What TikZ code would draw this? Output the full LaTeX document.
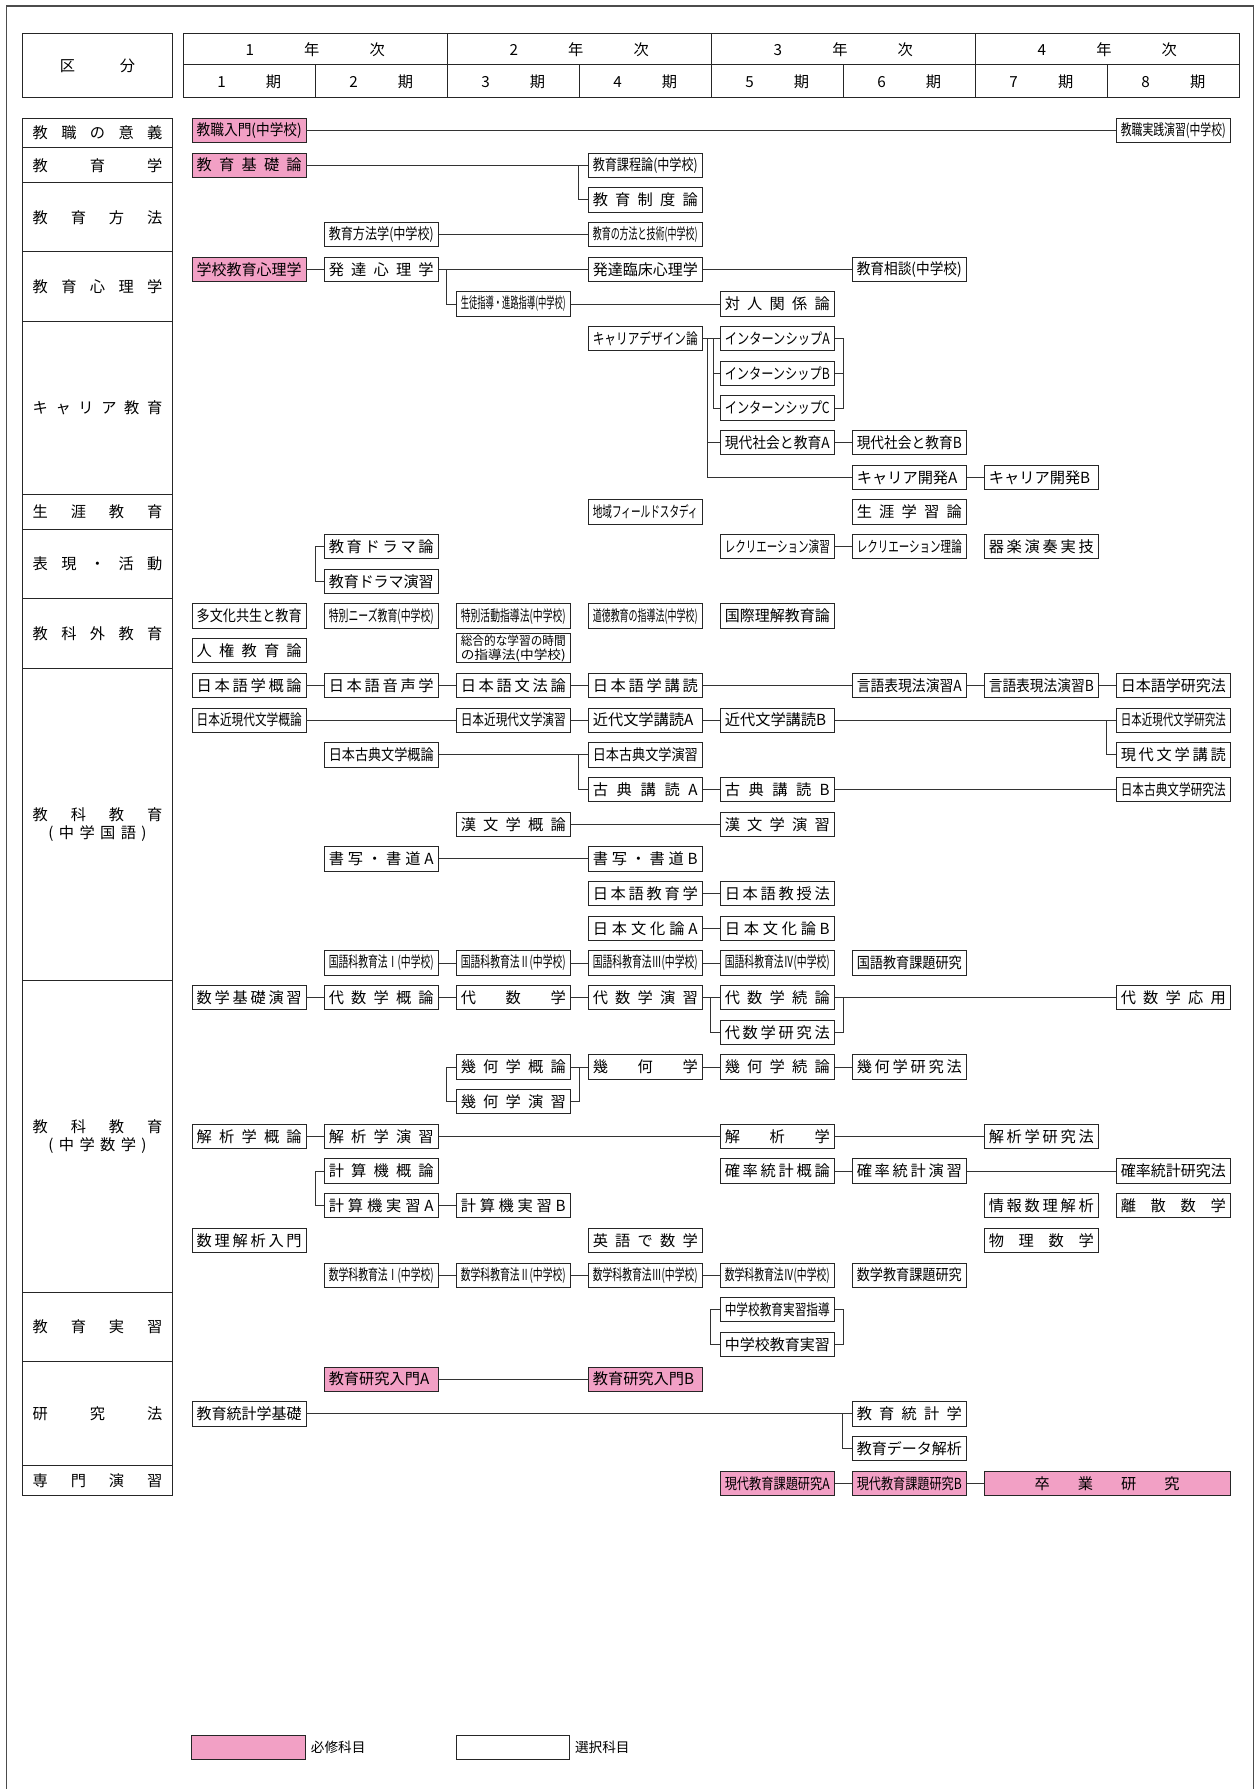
\documentclass[tikz,border=0pt]{standalone}
\usepackage{fontspec}
\setmainfont{Noto Sans CJK JP}
\usepackage{graphicx}
\usepackage{tikz}
\definecolor{reqpink}{RGB}{242,160,197}
\newlength\bw
\setlength\bw{2.3cm}
\newsavebox\fitbox
\newcommand\fitw[1]{\sbox\fitbox{#1}\ifdim\wd\fitbox>\bw\resizebox{\bw}{\height}{\usebox\fitbox}\else\makebox[\bw][l]{\usebox\fitbox}\fi}
\newcommand\fillw[1]{\resizebox{\bw}{\height}{#1}}
\newcommand\sprd[1]{\makebox[\bw][s]{#1}}
\newcommand\catw[1]{\makebox[2.84cm][s]{#1}}
\newcommand\cx[1]{218.45+115.7*(#1-1)}
\newcommand\ry[1]{114.4+30.4*(#1-1)}

\begin{document}
\begin{tikzpicture}[x=0.025cm, y=-0.025cm,
    box/.style={draw=black!85, line width=0.6pt, minimum width=2.4875cm, minimum height=0.5325cm, inner sep=0pt, font=\fontsize{9.5}{10.5}\selectfont},
    req/.style={box, fill=reqpink},
    cat/.style={inner sep=0pt, align=center, font=\fontsize{9.5}{11.4}\selectfont},
    hdtext/.style={inner sep=0pt, font=\fontsize{9.5}{10.5}\selectfont},
    link/.style={draw=black!80, line width=0.55pt},
    tline/.style={draw=black!85, line width=0.65pt}
]
\useasboundingbox (0,0) rectangle (1100,1568);
\draw[black!70, line width=0.8pt] (5.6,1568) -- (5.6,5.3) -- (1098.5,5.3) -- (1098.5,1568);

% header
\draw[tline] (19.7,29.2) rectangle (151,85.3);
\draw[tline] (160.6,29.2) rectangle (1086.2,85.3);
\draw[tline] (160.6,56.4) -- (1086.2,56.4);
\foreach \k in {3,5,7} \draw[tline] ({160.6+115.7*(\k-1)},29.2) -- ++(0,56.1);
\foreach \k in {2,4,6,8} \draw[tline] ({160.6+115.7*(\k-1)},56.4) -- ++(0,28.9);
\node[hdtext] (kubun) at (85.4,57.5) {\makebox[1.65cm][s]{区 分}};
\foreach \y in {1,...,4}
    \node[hdtext] (year\y) at ({160.6+231.4*(\y-0.5)},43.5) {\makebox[3.05cm][s]{\y{} 年 次}};
\foreach \p in {1,...,8}
    \node[hdtext] (term\p) at ({\cx{\p}},71.5) {\makebox[1.4cm][s]{\p{} 期}};

% categories
\draw[tline] (20,103.9) rectangle (151,1310.6);
\foreach \k in {1,2,4,6,11,12,14,16,25,34,36,39}
    \draw[tline] (20,{\ry{\k}+15.2}) -- (151,{\ry{\k}+15.2});
\node[cat] (k1) at (85.5,116.75) {\catw{教 職 の 意 義}};
\node[cat] (k2) at (85.5,144.8) {\catw{教 育 学}};
\node[cat] (k3) at (85.5,190.4) {\catw{教 育 方 法}};
\node[cat] (k4) at (85.5,251.2) {\catw{教 育 心 理 学}};
\node[cat] (k5) at (85.5,357.6) {\catw{キ ャ リ ア 教 育}};
\node[cat] (k6) at (85.5,448.8) {\catw{生 涯 教 育}};
\node[cat] (k7) at (85.5,494.4) {\catw{表 現 ・ 活 動}};
\node[cat] (k8) at (85.5,555.2) {\catw{教 科 外 教 育}};
\node[cat] (k9) at (85.5,722.4) {\catw{教 科 教 育}\\\makebox[2.15cm][s]{( 中 学 国 語 )}};
\node[cat] (k10) at (85.5,996.0) {\catw{教 科 教 育}\\\makebox[2.15cm][s]{( 中 学 数 学 )}};
\node[cat] (k11) at (85.5,1163.2) {\catw{教 育 実 習}};
\node[cat] (k12) at (85.5,1239.2) {\catw{研 究 法}};
\node[cat] (k13) at (85.5,1297.7) {\catw{専 門 演 習}};

% subjects
\node[req] (nyumon) at ({\cx{1}},{\ry{1}}) {\fitw{教職入門(中学校)}};
\node[box] (jissen) at ({\cx{8}},{\ry{1}}) {\fitw{教職実践演習(中学校)}};
\node[req] (kiso) at ({\cx{1}},{\ry{2}}) {\sprd{教 育 基 礎 論}};
\node[box] (katei) at ({\cx{4}},{\ry{2}}) {\fitw{教育課程論(中学校)}};
\node[box] (seido) at ({\cx{4}},{\ry{3}}) {\sprd{教 育 制 度 論}};
\node[box] (hoho) at ({\cx{2}},{\ry{4}}) {\fitw{教育方法学(中学校)}};
\node[box] (gijutsu) at ({\cx{4}},{\ry{4}}) {\fitw{教育の方法と技術(中学校)}};
\node[req] (gakko) at ({\cx{1}},{\ry{5}}) {\fitw{学校教育心理学}};
\node[box] (hattatsu) at ({\cx{2}},{\ry{5}}) {\sprd{発 達 心 理 学}};
\node[box] (rinsho) at ({\cx{4}},{\ry{5}}) {\fitw{発達臨床心理学}};
\node[box] (sodan) at ({\cx{6}},{\ry{5}}) {\fitw{教育相談(中学校)}};
\node[box] (shido) at ({\cx{3}},{\ry{6}}) {\fitw{生徒指導・進路指導(中学校)}};
\node[box] (taijin) at ({\cx{5}},{\ry{6}}) {\sprd{対 人 関 係 論}};
\node[box] (design) at ({\cx{4}},{\ry{7}}) {\fitw{キャリアデザイン論}};
\node[box] (internA) at ({\cx{5}},{\ry{7}}) {\fitw{インターンシップA}};
\node[box] (internB) at ({\cx{5}},{\ry{8}}) {\fitw{インターンシップB}};
\node[box] (internC) at ({\cx{5}},{\ry{9}}) {\fitw{インターンシップC}};
\node[box] (gendaiA) at ({\cx{5}},{\ry{10}}) {\fitw{現代社会と教育A}};
\node[box] (gendaiB) at ({\cx{6}},{\ry{10}}) {\fitw{現代社会と教育B}};
\node[box] (kaihatsuA) at ({\cx{6}},{\ry{11}}) {\fitw{キャリア開発A}};
\node[box] (kaihatsuB) at ({\cx{7}},{\ry{11}}) {\fitw{キャリア開発B}};
\node[box] (chiiki) at ({\cx{4}},{\ry{12}}) {\fitw{地域フィールドスタディ}};
\node[box] (shogai) at ({\cx{6}},{\ry{12}}) {\sprd{生 涯 学 習 論}};
\node[box] (drama) at ({\cx{2}},{\ry{13}}) {\sprd{教 育 ド ラ マ 論}};
\node[box] (rec1) at ({\cx{5}},{\ry{13}}) {\fitw{レクリエーション演習}};
\node[box] (rec2) at ({\cx{6}},{\ry{13}}) {\fitw{レクリエーション理論}};
\node[box] (kigaku) at ({\cx{7}},{\ry{13}}) {\sprd{器 楽 演 奏 実 技}};
\node[box] (dramaen) at ({\cx{2}},{\ry{14}}) {\fitw{教育ドラマ演習}};
\node[box] (tabunka) at ({\cx{1}},{\ry{15}}) {\fitw{多文化共生と教育}};
\node[box] (needs) at ({\cx{2}},{\ry{15}}) {\fitw{特別ニーズ教育(中学校)}};
\node[box] (tokkatsu) at ({\cx{3}},{\ry{15}}) {\fitw{特別活動指導法(中学校)}};
\node[box] (dotoku) at ({\cx{4}},{\ry{15}}) {\fitw{道徳教育の指導法(中学校)}};
\node[box] (kokusai) at ({\cx{5}},{\ry{15}}) {\fitw{国際理解教育論}};
\node[box] (jinken) at ({\cx{1}},{\ry{16}}) {\sprd{人 権 教 育 論}};
\node[box, minimum height=0.65cm, align=left, font=\fontsize{7.8}{8.8}\selectfont] (sogo) at ({\cx{3}},{\ry{16}-2.4}) {\fillw{総合的な学習の時間}\\\fillw{の指導法(中学校)}};
\node[box] (ngairon) at ({\cx{1}},{\ry{17}}) {\sprd{日 本 語 学 概 論}};
\node[box] (onsei) at ({\cx{2}},{\ry{17}}) {\sprd{日 本 語 音 声 学}};
\node[box] (bunpo) at ({\cx{3}},{\ry{17}}) {\sprd{日 本 語 文 法 論}};
\node[box] (kodoku) at ({\cx{4}},{\ry{17}}) {\sprd{日 本 語 学 講 読}};
\node[box] (gengoA) at ({\cx{6}},{\ry{17}}) {\fitw{言語表現法演習A}};
\node[box] (gengoB) at ({\cx{7}},{\ry{17}}) {\fitw{言語表現法演習B}};
\node[box] (nkenkyu) at ({\cx{8}},{\ry{17}}) {\fitw{日本語学研究法}};
\node[box] (kingendai) at ({\cx{1}},{\ry{18}}) {\fitw{日本近現代文学概論}};
\node[box] (kgenshu) at ({\cx{3}},{\ry{18}}) {\fitw{日本近現代文学演習}};
\node[box] (kindaiA) at ({\cx{4}},{\ry{18}}) {\fitw{近代文学講読A}};
\node[box] (kindaiB) at ({\cx{5}},{\ry{18}}) {\fitw{近代文学講読B}};
\node[box] (kgkenkyu) at ({\cx{8}},{\ry{18}}) {\fitw{日本近現代文学研究法}};
\node[box] (kotengairon) at ({\cx{2}},{\ry{19}}) {\fitw{日本古典文学概論}};
\node[box] (kotenenshu) at ({\cx{4}},{\ry{19}}) {\fitw{日本古典文学演習}};
\node[box] (gendaibun) at ({\cx{8}},{\ry{19}}) {\sprd{現 代 文 学 講 読}};
\node[box] (kotenA) at ({\cx{4}},{\ry{20}}) {\sprd{古 典 講 読 A}};
\node[box] (kotenB) at ({\cx{5}},{\ry{20}}) {\sprd{古 典 講 読 B}};
\node[box] (kotenkenkyu) at ({\cx{8}},{\ry{20}}) {\fitw{日本古典文学研究法}};
\node[box] (kanbun) at ({\cx{3}},{\ry{21}}) {\sprd{漢 文 学 概 論}};
\node[box] (kanbunen) at ({\cx{5}},{\ry{21}}) {\sprd{漢 文 学 演 習}};
\node[box] (shoshaA) at ({\cx{2}},{\ry{22}}) {\sprd{書 写 ・ 書 道 A}};
\node[box] (shoshaB) at ({\cx{4}},{\ry{22}}) {\sprd{書 写 ・ 書 道 B}};
\node[box] (nkyoiku) at ({\cx{4}},{\ry{23}}) {\sprd{日 本 語 教 育 学}};
\node[box] (nkyoju) at ({\cx{5}},{\ry{23}}) {\sprd{日 本 語 教 授 法}};
\node[box] (bunkaA) at ({\cx{4}},{\ry{24}}) {\sprd{日 本 文 化 論 A}};
\node[box] (bunkaB) at ({\cx{5}},{\ry{24}}) {\sprd{日 本 文 化 論 B}};
\node[box] (kokugo1) at ({\cx{2}},{\ry{25}}) {\fitw{国語科教育法Ⅰ(中学校)}};
\node[box] (kokugo2) at ({\cx{3}},{\ry{25}}) {\fitw{国語科教育法Ⅱ(中学校)}};
\node[box] (kokugo3) at ({\cx{4}},{\ry{25}}) {\fitw{国語科教育法Ⅲ(中学校)}};
\node[box] (kokugo4) at ({\cx{5}},{\ry{25}}) {\fitw{国語科教育法Ⅳ(中学校)}};
\node[box] (kokugokadai) at ({\cx{6}},{\ry{25}}) {\fitw{国語教育課題研究}};
\node[box] (kisoen) at ({\cx{1}},{\ry{26}}) {\sprd{数 学 基 礎 演 習}};
\node[box] (daigairon) at ({\cx{2}},{\ry{26}}) {\sprd{代 数 学 概 論}};
\node[box] (daisu) at ({\cx{3}},{\ry{26}}) {\sprd{代 数 学}};
\node[box] (daienshu) at ({\cx{4}},{\ry{26}}) {\sprd{代 数 学 演 習}};
\node[box] (daizoku) at ({\cx{5}},{\ry{26}}) {\sprd{代 数 学 続 論}};
\node[box] (daioyo) at ({\cx{8}},{\ry{26}}) {\sprd{代 数 学 応 用}};
\node[box] (daikenkyu) at ({\cx{5}},{\ry{27}}) {\sprd{代 数 学 研 究 法}};
\node[box] (kikagai) at ({\cx{3}},{\ry{28}}) {\sprd{幾 何 学 概 論}};
\node[box] (kika) at ({\cx{4}},{\ry{28}}) {\sprd{幾 何 学}};
\node[box] (kikazoku) at ({\cx{5}},{\ry{28}}) {\sprd{幾 何 学 続 論}};
\node[box] (kikaken) at ({\cx{6}},{\ry{28}}) {\sprd{幾 何 学 研 究 法}};
\node[box] (kikaen) at ({\cx{3}},{\ry{29}}) {\sprd{幾 何 学 演 習}};
\node[box] (kaigai) at ({\cx{1}},{\ry{30}}) {\sprd{解 析 学 概 論}};
\node[box] (kaien) at ({\cx{2}},{\ry{30}}) {\sprd{解 析 学 演 習}};
\node[box] (kaiseki) at ({\cx{5}},{\ry{30}}) {\sprd{解 析 学}};
\node[box] (kaiken) at ({\cx{7}},{\ry{30}}) {\sprd{解 析 学 研 究 法}};
\node[box] (keigai) at ({\cx{2}},{\ry{31}}) {\sprd{計 算 機 概 論}};
\node[box] (kakugai) at ({\cx{5}},{\ry{31}}) {\sprd{確 率 統 計 概 論}};
\node[box] (kakuen) at ({\cx{6}},{\ry{31}}) {\sprd{確 率 統 計 演 習}};
\node[box] (kakuken) at ({\cx{8}},{\ry{31}}) {\fitw{確率統計研究法}};
\node[box] (keiA) at ({\cx{2}},{\ry{32}}) {\sprd{計 算 機 実 習 A}};
\node[box] (keiB) at ({\cx{3}},{\ry{32}}) {\sprd{計 算 機 実 習 B}};
\node[box] (joho) at ({\cx{7}},{\ry{32}}) {\sprd{情 報 数 理 解 析}};
\node[box] (risan) at ({\cx{8}},{\ry{32}}) {\sprd{離 散 数 学}};
\node[box] (suri) at ({\cx{1}},{\ry{33}}) {\sprd{数 理 解 析 入 門}};
\node[box] (eigo) at ({\cx{4}},{\ry{33}}) {\sprd{英 語 で 数 学}};
\node[box] (butsuri) at ({\cx{7}},{\ry{33}}) {\sprd{物 理 数 学}};
\node[box] (sugaku1) at ({\cx{2}},{\ry{34}}) {\fitw{数学科教育法Ⅰ(中学校)}};
\node[box] (sugaku2) at ({\cx{3}},{\ry{34}}) {\fitw{数学科教育法Ⅱ(中学校)}};
\node[box] (sugaku3) at ({\cx{4}},{\ry{34}}) {\fitw{数学科教育法Ⅲ(中学校)}};
\node[box] (sugaku4) at ({\cx{5}},{\ry{34}}) {\fitw{数学科教育法Ⅳ(中学校)}};
\node[box] (sugakukadai) at ({\cx{6}},{\ry{34}}) {\fitw{数学教育課題研究}};
\node[box] (shidou) at ({\cx{5}},{\ry{35}}) {\fitw{中学校教育実習指導}};
\node[box] (jisshu) at ({\cx{5}},{\ry{36}}) {\fitw{中学校教育実習}};
\node[req] (kenA) at ({\cx{2}},{\ry{37}}) {\fitw{教育研究入門A}};
\node[req] (kenB) at ({\cx{4}},{\ry{37}}) {\fitw{教育研究入門B}};
\node[box] (tokeikiso) at ({\cx{1}},{\ry{38}}) {\fitw{教育統計学基礎}};
\node[box] (tokei) at ({\cx{6}},{\ry{38}}) {\sprd{教 育 統 計 学}};
\node[box] (data) at ({\cx{6}},{\ry{39}}) {\fitw{教育データ解析}};
\node[req] (kadaiA) at ({\cx{5}},{\ry{40}}) {\fitw{現代教育課題研究A}};
\node[req] (kadaiB) at ({\cx{6}},{\ry{40}}) {\fitw{現代教育課題研究B}};
\node[req, minimum width=5.39cm] (sotsugyo) at (970.3,{\ry{40}}) {\makebox[3.175cm][s]{卒 業 研 究}};

% connectors
\draw[link] (nyumon) -- (jissen);
\draw[link] (kiso) -- (katei);
\draw[link] (kiso) -| ([xshift=-0.2cm]seido.west) -- (seido);
\draw[link] (hoho) -- (gijutsu);
\draw[link] (gakko) -- (hattatsu) -- (rinsho) -- (sodan);
\draw[link] (hattatsu) -| ([xshift=-0.2cm]shido.west) -- (shido);
\draw[link] (shido) -- (taijin);
\draw[link] (design) -- (internA);
\draw[link] (design) -| ([xshift=-0.14cm]internB.west) -- (internB);
\draw[link] ([xshift=-0.14cm]internB.west) |- (internC);
\draw[link] (design) -| ([xshift=-0.275cm]gendaiA.west) -- (gendaiA);
\draw[link] ([xshift=-0.275cm]gendaiA.west) |- (kaihatsuA);
\draw[link] (internA.east) -| ([xshift=0.19cm]internC.east) -- (internC.east);
\draw[link] (internB.east) -- ++(0.19cm,0);
\draw[link] (gendaiA) -- (gendaiB);
\draw[link] (kaihatsuA) -- (kaihatsuB);
\draw[link] (rec1) -- (rec2);
\draw[link] (drama.west) -| ([xshift=-0.19cm]dramaen.west) -- (dramaen.west);
\draw[link] (ngairon) -- (onsei) -- (bunpo) -- (kodoku) -- (gengoA) -- (gengoB) -- (nkenkyu);
\draw[link] (kingendai) -- (kgenshu) -- (kindaiA) -- (kindaiB) -- (kgkenkyu);
\draw[link] (kindaiB) -| ([xshift=-0.2cm]gendaibun.west) -- (gendaibun);
\draw[link] (kotengairon) -- (kotenenshu);
\draw[link] (kotengairon) -| ([xshift=-0.2cm]kotenA.west) -- (kotenA);
\draw[link] (kotenA) -- (kotenB) -- (kotenkenkyu);
\draw[link] (kanbun) -- (kanbunen);
\draw[link] (shoshaA) -- (shoshaB);
\draw[link] (nkyoiku) -- (nkyoju);
\draw[link] (bunkaA) -- (bunkaB);
\draw[link] (kokugo1) -- (kokugo2) -- (kokugo3) -- (kokugo4);
\draw[link] (kisoen) -- (daigairon) -- (daisu) -- (daienshu) -- (daizoku) -- (daioyo);
\draw[link] (daienshu) -| ([xshift=-0.2cm]daikenkyu.west) -- (daikenkyu);
\draw[link] (daizoku.east) -| ([xshift=0.19cm]daikenkyu.east) -- (daikenkyu.east);
\draw[link] (kikagai.west) -| ([xshift=-0.2cm]kikaen.west) -- (kikaen.west);
\draw[link] (kikagai) -- (kika) -- (kikazoku) -- (kikaken);
\draw[link] (kikaen.east) -| ([xshift=0.2cm]kikagai.east);
\draw[link] (kaigai) -- (kaien) -- (kaiseki) -- (kaiken);
\draw[link] (keigai.west) -| ([xshift=-0.19cm]keiA.west) -- (keiA.west);
\draw[link] (keiA) -- (keiB);
\draw[link] (kakugai) -- (kakuen) -- (kakuken);
\draw[link] (sugaku1) -- (sugaku2) -- (sugaku3) -- (sugaku4);
\draw[link] (shidou.west) -| ([xshift=-0.2cm]jisshu.west) -- (jisshu.west);
\draw[link] (shidou.east) -| ([xshift=0.19cm]jisshu.east) -- (jisshu.east);
\draw[link] (kenA) -- (kenB);
\draw[link] (tokeikiso) -- (tokei);
\draw[link] (tokeikiso) -| ([xshift=-0.2cm]data.west) -- (data);
\draw[link] (kadaiA) -- (kadaiB) -- (sotsugyo);

% legend
\node[req, minimum height=0.54cm] (legreq) at (218,1531.6) {};
\node[hdtext, anchor=west, font=\fontsize{8.5}{9}\selectfont] (legreqt) at ([xshift=0.1cm]legreq.east) {必修科目};
\node[box, minimum height=0.54cm] (legopt) at (449.5,1531.6) {};
\node[hdtext, anchor=west, font=\fontsize{8.5}{9}\selectfont] (legoptt) at ([xshift=0.1cm]legopt.east) {選択科目};
\end{tikzpicture}
\end{document}
